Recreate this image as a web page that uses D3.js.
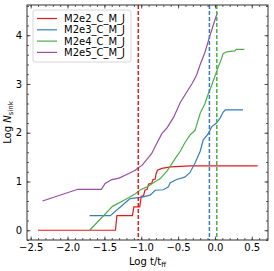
<!DOCTYPE html>
<html lang="en">
<head>
    <meta charset="UTF-8">
    <title>Log Nsink vs Log t/tff</title>
    <script src="https://d3js.org/d3.v7.min.js"></script>
    <style>
        body { margin: 0; background: #fff; }
        text { font-family: "DejaVu Sans", sans-serif; fill: #000; }
    </style>
</head>
<body>

<div id="chart"></div>

<script>
    // series data (x = Log t/tff, y = Log Nsink)
    var names = ["M2e2_C_M_J", "M2e3_C_M_J", "M2e4_C_M_J", "M2e5_C_M_J"];
    var colors = ["#e41a1c", "#377eb8", "#4daf4a", "#984ea3"];

    var redX = [-2.40, -1.35, -1.33, -1.12, -1.10, -1.02, -1.00, -0.97, -0.95, -0.92, -0.90, -0.86, -0.84, -0.81, -0.80, -0.78, -0.72, -0.60, -0.34, 0.58];
    var redY = [0, 0, 0.30, 0.30, 0.48, 0.48, 0.70, 0.70, 0.82, 0.84, 0.95, 0.96, 1.04, 1.05, 1.15, 1.23, 1.27, 1.30, 1.32, 1.32];

    var blueX = [-1.70, -1.42, -1.19, -1.15, -0.99, -0.88, -0.81, -0.70, -0.63, -0.61, -0.52, -0.41, -0.34, -0.27, -0.20, -0.16, -0.09, -0.045, 0.02, 0.07, 0.11, 0.14, 0.38];
    var blueY = [0.30, 0.30, 0.60, 0.65, 0.68, 0.72, 0.82, 0.83, 0.89, 0.97, 1.04, 1.09, 1.18, 1.38, 1.62, 1.85, 1.98, 2.12, 2.20, 2.30, 2.42, 2.47, 2.47];

    var greenX = [-1.70, -1.39, -1.19, -1.08, -1.01, -0.92, -0.83, -0.74, -0.65, -0.59, -0.54, -0.47, -0.41, -0.34, -0.27, -0.20, -0.135, -0.09, -0.045, 0.0, 0.045, 0.09, 0.11, 0.16, 0.27, 0.29, 0.40];
    var greenY = [0, 0.49, 0.65, 0.75, 0.83, 0.89, 0.98, 1.06, 1.22, 1.35, 1.47, 1.62, 1.79, 1.95, 2.05, 2.40, 2.60, 2.80, 2.97, 3.16, 3.35, 3.52, 3.62, 3.66, 3.68, 3.71, 3.71];

    var purpleX = [-2.34, -1.86, -1.54, -1.49, -1.40, -1.30, -1.19, -1.08, -1.04, -0.99, -0.92, -0.86, -0.79, -0.72, -0.65, -0.56, -0.47, -0.38, -0.31, -0.25, -0.20, -0.135, -0.07, -0.02, 0.03];
    var purpleY = [0.60, 0.84, 0.84, 0.96, 1.04, 1.07, 1.15, 1.23, 1.28, 1.33, 1.46, 1.57, 1.78, 1.98, 2.10, 2.32, 2.62, 2.84, 3.01, 3.18, 3.40, 3.65, 3.98, 4.22, 4.45];

    // vertical dashed markers
    var markX = [-1.04, -0.075, 0.025];
    var markColors = ["#e41a1c", "#377eb8", "#4daf4a"];

    var xTicks = [-2.5, -2.0, -1.5, -1.0, -0.5, 0.0, 0.5];
    var yTicks = [0, 1, 2, 3, 4];

    var seriesX = [redX, blueX, greenX, purpleX];
    var seriesY = [redY, blueY, greenY, purpleY];

    var W = 274, H = 271;
    var margin = { top: 5, right: 6, bottom: 31, left: 27 },
        width = W - margin.left - margin.right,
        height = H - margin.top - margin.bottom;

    var svg = d3.select("#chart").append("svg")
        .attr("width", W)
        .attr("height", H);

    var g = svg.append("g")
        .attr("transform", "translate(" + margin.left + "," + margin.top + ")");

    var x = d3.scaleLinear().domain([-2.55, 0.72]).range([0, width]);
    var y = d3.scaleLinear().domain([-0.2, 4.62]).range([height, 0]);

    var fmt = function (d) { return d3.format(".1f")(d).replace("-", "\u2212"); };

    var xMinor = d3.range(-25, 8).map(function (i) { return i / 10; }).filter(function (v) { return v >= -2.55 && v <= 0.72; });
    var yMinor = d3.range(-1, 24).map(function (i) { return i / 5; }).filter(function (v) { return v >= -0.2 && v <= 4.62; });

    // axes, ticks pointing inward on all four sides
    function drawAxes() {
        g.append("g").attr("transform", "translate(0," + height + ")")
            .call(d3.axisBottom(x).tickValues(xMinor).tickSize(-2).tickFormat(""));
        g.append("g").attr("transform", "translate(0," + height + ")")
            .call(d3.axisBottom(x).tickValues(xTicks).tickSize(-3.5).tickPadding(4).tickFormat(fmt));
        g.append("g")
            .call(d3.axisTop(x).tickValues(xMinor).tickSize(-2).tickFormat(""));
        g.append("g")
            .call(d3.axisTop(x).tickValues(xTicks).tickSize(-3.5).tickFormat(""));

        g.append("g")
            .call(d3.axisLeft(y).tickValues(yMinor).tickSize(-2).tickFormat(""));
        g.append("g")
            .call(d3.axisLeft(y).tickValues(yTicks).tickSize(-3.5).tickPadding(5).tickFormat(d3.format("d")));
        g.append("g").attr("transform", "translate(" + width + ",0)")
            .call(d3.axisRight(y).tickValues(yMinor).tickSize(-2).tickFormat(""));
        g.append("g").attr("transform", "translate(" + width + ",0)")
            .call(d3.axisRight(y).tickValues(yTicks).tickSize(-3.5).tickFormat(""));

        g.selectAll(".domain").remove();
        g.selectAll(".tick line").attr("stroke", "#333").attr("stroke-width", 0.8);
        g.selectAll(".tick text").style("font-size", "10px").style("font-family", "DejaVu Sans");

        g.append("rect")
            .attr("width", width).attr("height", height)
            .attr("fill", "none").attr("stroke", "#333").attr("stroke-width", 1);
    }

    var line = d3.line()
        .x(function (d) { return x(d[0]); })
        .y(function (d) { return y(d[1]); });

    for (var s = 0; s < seriesX.length; s++) {
        var pts = d3.zip(seriesX[s], seriesY[s]);
        g.append("path")
            .datum(pts)
            .attr("fill", "none")
            .attr("stroke", colors[s])
            .attr("stroke-width", 1.2)
            .attr("d", line);
    }

    g.selectAll(".mark")
        .data(markX)
        .enter().append("line")
        .attr("class", "mark")
        .attr("x1", function (d) { return x(d); })
        .attr("x2", function (d) { return x(d); })
        .attr("y1", 0)
        .attr("y2", height)
        .attr("stroke", function (d, i) { return markColors[i]; })
        .attr("stroke-width", 1.5)
        .attr("stroke-dasharray", "4,2");

    drawAxes();

    // legend
    var lg = g.append("g").attr("transform", "translate(6,5)");
    lg.append("rect")
        .attr("width", 98).attr("height", 52)
        .attr("rx", 2)
        .attr("fill", "#fff").attr("fill-opacity", 0.8)
        .attr("stroke", "#ccc").attr("stroke-width", 0.8);
    names.forEach(function (n, i) {
        var yy = 8.5 + i * 11.3;
        lg.append("line")
            .attr("x1", 4).attr("x2", 24)
            .attr("y1", yy).attr("y2", yy)
            .attr("stroke", colors[i]).attr("stroke-width", 1.2);
        lg.append("text")
            .attr("x", 31).attr("y", yy)
            .attr("dy", "0.35em")
            .style("font-size", "10px")
            .text(n);
    });

    // axis labels
    var xl = svg.append("text")
        .attr("x", margin.left + width / 2)
        .attr("y", 265)
        .attr("text-anchor", "middle")
        .style("font-size", "10px");
    xl.append("tspan").text("Log t/t");
    xl.append("tspan").attr("dy", 2).style("font-size", "7px").text("ff");

    var yl = svg.append("text")
        .attr("transform", "translate(11," + (margin.top + height / 2) + ") rotate(-90)")
        .attr("text-anchor", "middle")
        .style("font-size", "10px");
    yl.append("tspan").text("Log ");
    yl.append("tspan").style("font-style", "italic").text("N");
    yl.append("tspan").attr("dy", 2).style("font-size", "7px").text("sink");
</script>

</body>
</html>
